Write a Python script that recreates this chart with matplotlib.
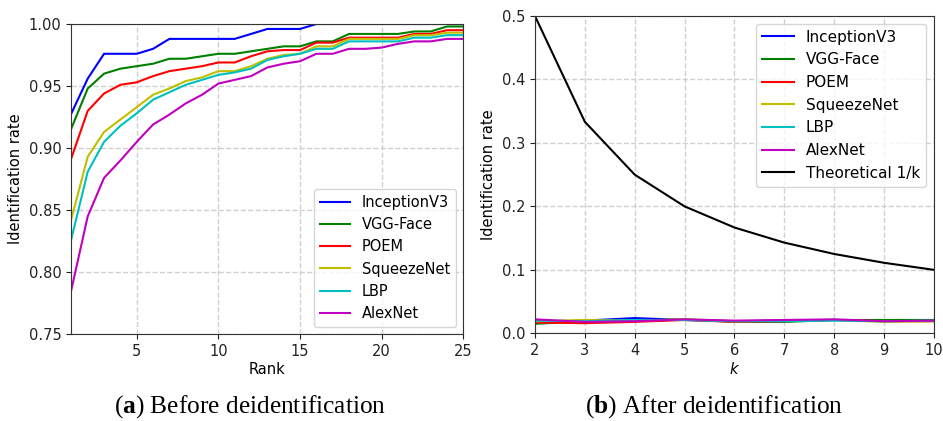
import matplotlib
matplotlib.use('Agg')
import matplotlib.pyplot as plt

plt.rcParams['font.family'] = 'DejaVu Sans'
plt.rcParams['font.size'] = 10.5
plt.rcParams['mathtext.fontset'] = 'custom'
plt.rcParams['mathtext.rm'] = 'Liberation Serif'
plt.rcParams['mathtext.bf'] = 'Liberation Serif:bold'

methods = ['InceptionV3', 'VGG-Face', 'POEM', 'SqueezeNet', 'LBP', 'AlexNet']
colors = ['b', 'g', 'r', 'y', 'c', 'm']

# (a) before deidentification, rank 1..25
rank = list(range(1, 26))
inception_a = [0.928, 0.956, 0.976, 0.976, 0.976, 0.980, 0.988, 0.988, 0.988, 0.988, 0.988, 0.992, 0.996,
               0.996, 0.996, 1.000, 1.000, 1.000, 1.000, 1.000, 1.000, 1.000, 1.000, 1.000, 1.000]
vgg_a = [0.916, 0.948, 0.960, 0.964, 0.966, 0.968, 0.972, 0.972, 0.974, 0.976, 0.976, 0.978, 0.980,
         0.982, 0.982, 0.986, 0.986, 0.992, 0.992, 0.992, 0.992, 0.994, 0.994, 0.998, 0.998]
poem_a = [0.892, 0.930, 0.944, 0.951, 0.953, 0.958, 0.962, 0.964, 0.966, 0.969, 0.969, 0.974, 0.978,
          0.979, 0.979, 0.985, 0.985, 0.989, 0.989, 0.989, 0.989, 0.992, 0.992, 0.995, 0.995]
squeeze_a = [0.843, 0.893, 0.913, 0.923, 0.933, 0.943, 0.948, 0.954, 0.957, 0.962, 0.962, 0.966, 0.972,
             0.975, 0.976, 0.982, 0.982, 0.988, 0.988, 0.988, 0.988, 0.991, 0.991, 0.993, 0.993]
lbp_a = [0.827, 0.881, 0.905, 0.918, 0.928, 0.939, 0.945, 0.951, 0.955, 0.959, 0.961, 0.964, 0.971,
         0.974, 0.976, 0.980, 0.980, 0.986, 0.986, 0.986, 0.986, 0.989, 0.989, 0.991, 0.991]
alex_a = [0.786, 0.845, 0.876, 0.890, 0.905, 0.919, 0.927, 0.936, 0.943, 0.952, 0.955, 0.958, 0.965,
          0.968, 0.970, 0.976, 0.976, 0.980, 0.980, 0.981, 0.984, 0.986, 0.986, 0.988, 0.988]

# (b) after deidentification, k = 2..10
k = [2, 3, 4, 5, 6, 7, 8, 9, 10]
inception_b = [0.018, 0.020, 0.024, 0.021, 0.019, 0.020, 0.021, 0.020, 0.020]
vgg_b = [0.015, 0.019, 0.020, 0.022, 0.018, 0.018, 0.021, 0.021, 0.021]
poem_b = [0.017, 0.016, 0.018, 0.021, 0.018, 0.019, 0.021, 0.019, 0.019]
squeeze_b = [0.019, 0.021, 0.020, 0.022, 0.019, 0.020, 0.021, 0.018, 0.019]
lbp_b = [0.020, 0.019, 0.021, 0.021, 0.019, 0.019, 0.020, 0.019, 0.020]
alex_b = [0.022, 0.018, 0.019, 0.022, 0.020, 0.021, 0.022, 0.019, 0.020]
theoretical = [0.5, 0.3333, 0.25, 0.2, 0.1667, 0.1429, 0.125, 0.1111, 0.1]

fig = plt.figure(figsize=(9.43, 4.21), dpi=100)

ax1 = fig.add_axes([0.0757, 0.206, 0.4157, 0.737])
for name, col, vals in zip(methods, colors, [inception_a, vgg_a, poem_a, squeeze_a, lbp_a, alex_a]):
    ax1.plot(rank, vals, color=col, lw=1.5, label=name)
ax1.set_xlim(1, 25)
ax1.set_ylim(0.75, 1.0)
ax1.set_xticks([5, 10, 15, 20, 25])
ax1.set_yticks([0.75, 0.80, 0.85, 0.90, 0.95, 1.00])
ax1.set_yticklabels(['0.75', '0.80', '0.85', '0.90', '0.95', '1.00'])
ax1.set_xlabel('Rank', labelpad=2)
ax1.set_ylabel('Identification rate')
ax1.grid(True, ls='--', color='#d0d0d0', lw=1)
ax1.legend(loc='lower right', handlelength=2.1, fontsize=10.5)

ax2 = fig.add_axes([0.5673, 0.2083, 0.4231, 0.7537])
for name, col, vals in zip(methods, colors, [inception_b, vgg_b, poem_b, squeeze_b, lbp_b, alex_b]):
    ax2.plot(k, vals, color=col, lw=1.5, label=name)
ax2.plot(k, theoretical, color='k', lw=1.5, label='Theoretical 1/k')
ax2.set_xlim(2, 10)
ax2.set_ylim(0, 0.5)
ax2.set_xticks(k)
ax2.set_xlabel('$k$', labelpad=2)
ax2.set_ylabel('Identification rate')
ax2.grid(True, ls='--', color='#d0d0d0', lw=1)
ax2.legend(loc='upper right', handlelength=2.1, fontsize=11)

for ax in (ax1, ax2):
    for sp in ax.spines.values():
        sp.set_color('#333333')
    ax.tick_params(colors='#222222')

fig.text(0.265, 0.019, r'($\mathbf{a}$) Before deidentification', ha='center', va='baseline',
         fontsize=18.3, family='Liberation Serif')
fig.text(0.757, 0.019, r'($\mathbf{b}$) After deidentification', ha='center', va='baseline',
         fontsize=18.3, family='Liberation Serif')

fig.savefig('out.png', dpi=100)
